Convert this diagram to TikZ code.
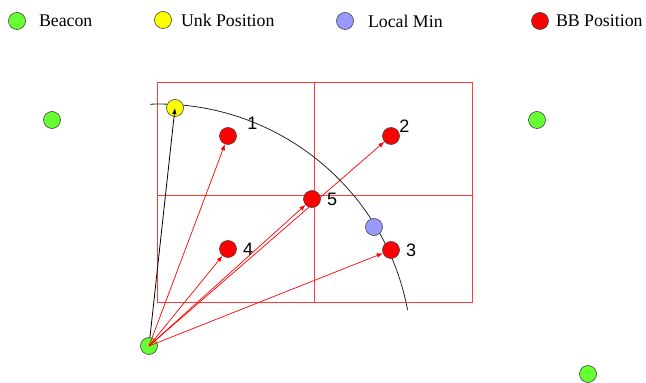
\documentclass[tikz,border=0pt]{standalone}
\usepackage{fontspec}
\setmainfont{Liberation Serif}
\newfontfamily\numfont{Liberation Sans}
\usepackage{tikz}
\usetikzlibrary{arrows.meta,positioning}
\definecolor{beacongreen}{RGB}{102,255,51}
\definecolor{unkyellow}{RGB}{255,255,0}
\definecolor{minblue}{RGB}{153,153,255}
\definecolor{bbred}{RGB}{255,0,0}
\definecolor{gridred}{RGB}{255,60,60}

\begin{document}
\begin{tikzpicture}[x=1pt,y=1pt,
  dot/.style={circle,draw=black!75,line width=0.6pt,minimum size=17pt,inner sep=0pt},
  beacon/.style={dot,fill=beacongreen},
  unk/.style={dot,fill=unkyellow},
  locmin/.style={dot,fill=minblue},
  bbpos/.style={dot,fill=bbred},
  legtext/.style={inner sep=0pt,font=\fontsize{17.8}{20}\selectfont},
  num/.style={inner sep=1pt,font=\numfont\fontsize{18}{20}\selectfont},
  gridline/.style={draw=gridred,line width=0.7pt},
  bbarrow/.style={-{Latex[length=6pt,width=4.5pt]},draw=bbred,line width=0.7pt},
  unkarrow/.style={-{Latex[length=6pt,width=4.5pt]},line width=0.8pt},
  arcline/.style={draw=black!85,line width=0.8pt}
]
\useasboundingbox (0,0) rectangle (646,383);
% legend
\node[beacon] (lgb) at (17,362) {};
\node[legtext,right=13pt of lgb] (lgbt) {Beacon};
\node[unk] (lgu) at (163,363) {};
\node[legtext,right=9pt of lgu] (lgut) {Unk Position};
\node[locmin] (lgm) at (345,362) {};
\node[legtext,right=14pt of lgm] (lgmt) {Local Min};
\node[bbpos] (lgp) at (540,362) {};
\node[legtext,right=7pt of lgp] (lgpt) {BB Position};
% search grid
\draw[gridline] (157,81) rectangle (472,301);
\draw[gridline] (314,81) -- (314,301);
\draw[gridline] (157,188) -- (472,188);
% distance arc
\coordinate (arcstart) at (150.2,278.8);
\draw[arcline] (arcstart) arc[start angle=92,end angle=10.7,radius=253pt];
% beacons
\node[beacon] (bcn) at (149,37) {};
\node[beacon] (bcnw) at (52,263) {};
\node[beacon] (bcne) at (537,263) {};
\node[beacon] (bcns) at (588,9) {};
% positions
\node[unk] (unk) at (175,275) {};
\node[locmin] (lmin) at (374,156) {};
\node[bbpos] (bb1) at (228,247) {};
\node[bbpos] (bb2) at (391,247) {};
\node[bbpos] (bb3) at (391,133) {};
\node[bbpos] (bb4) at (228,134) {};
\node[bbpos] (bb5) at (312,184) {};
\node[num,above right=-1pt and 2pt of bb1,xshift=10pt] (n1) {1};
\node[num,above right=-4pt and 1pt of bb2] (n2) {2};
\node[num,right=5pt of bb3] (n3) {3};
\node[num,right=5pt of bb4] (n4) {4};
\node[num,right=5pt of bb5] (n5) {5};
% arrows
\draw[bbarrow] (bcn.center) -- (bb1);
\draw[bbarrow] (bcn.center) -- (bb2);
\draw[bbarrow] (bcn.center) -- (bb3);
\draw[bbarrow] (bcn.center) -- (bb4);
\draw[bbarrow] (bcn.center) -- (bb5);
\draw[unkarrow] (bcn) -- (unk.center);
\end{tikzpicture}
\end{document}
